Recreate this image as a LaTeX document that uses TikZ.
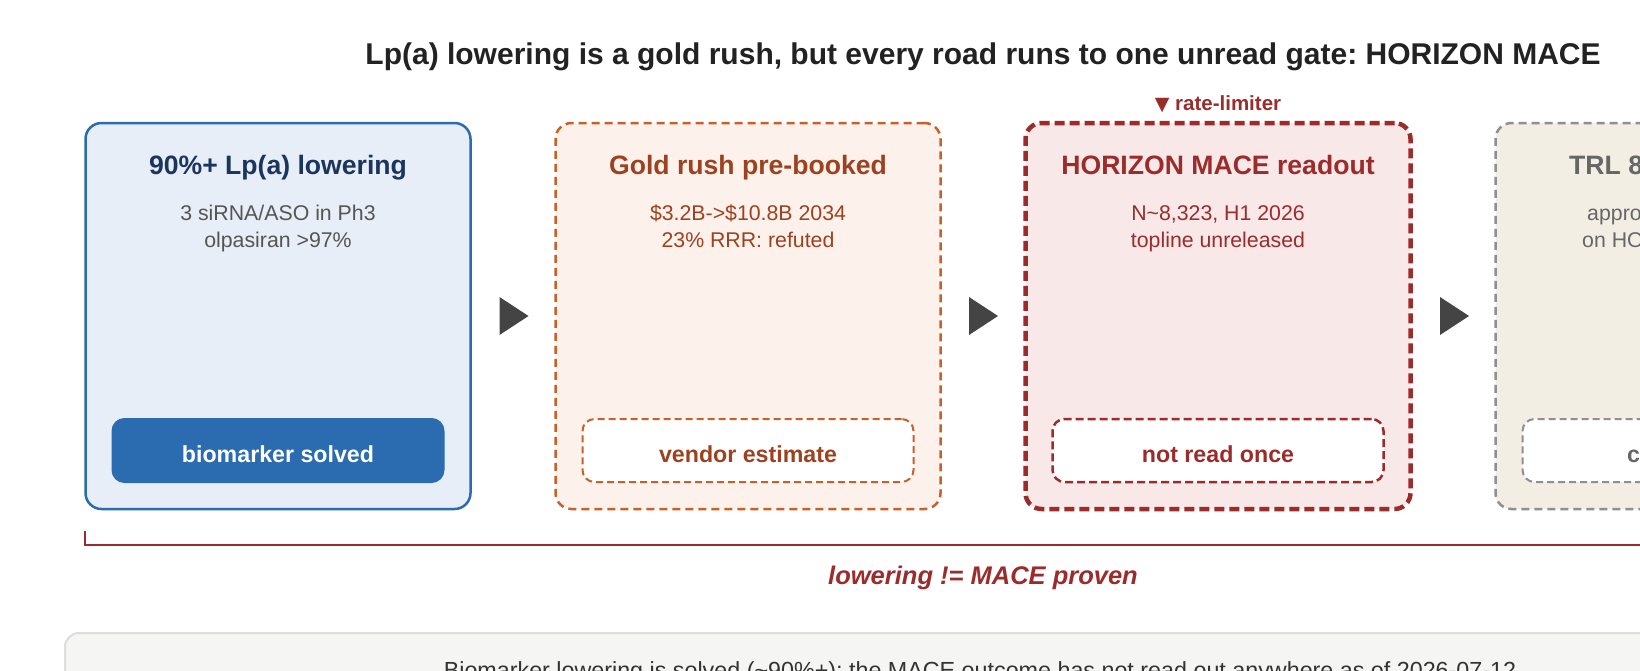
\documentclass[tikz,border=0pt]{standalone}
\usepackage{fontspec}
\setmainfont{Liberation Sans}
\newfontfamily\dejavu{DejaVu Sans}
\usetikzlibrary{calc}
\frenchspacing
\definecolor{titlec}{HTML}{222222}
\definecolor{blueedge}{HTML}{2B6CB0}
\definecolor{bluefill}{HTML}{E7EEF7}
\definecolor{bluetitle}{HTML}{1B355C}
\definecolor{bodygray}{HTML}{555555}
\definecolor{orangeedge}{HTML}{C8602A}
\definecolor{orangefill}{HTML}{FCF1EB}
\definecolor{orangetext}{HTML}{9C4221}
\definecolor{rededge}{HTML}{9B2C2C}
\definecolor{redfill}{HTML}{F8E8E8}
\definecolor{grayedge}{HTML}{8F8F8F}
\definecolor{grayfill}{HTML}{F2EEE4}
\definecolor{graytext}{HTML}{666666}
\definecolor{arrowc}{HTML}{444444}
\definecolor{panelfill}{HTML}{F5F5F3}
\definecolor{paneledge}{HTML}{DDDDDD}
\definecolor{paneltext}{HTML}{333333}
\begin{document}
\begin{tikzpicture}[x=1pt,y=-1pt,
  cardbox/.style={rectangle, rounded corners=16pt, minimum width=385pt, minimum height=386pt, inner sep=0pt, line width=2.5pt},
  dashedge/.style={dash pattern=on 8pt off 5pt},
  pillbox/.style={rectangle, rounded corners=12pt, minimum width=331pt, minimum height=63pt, inner sep=0pt, line width=2pt},
  pilldash/.style={dash pattern=on 7pt off 4pt},
  cardtitle/.style={anchor=base, inner sep=0pt, font=\fontsize{26.6}{32}\selectfont\bfseries},
  cardbody/.style={anchor=base, inner sep=0pt, font=\fontsize{21.3}{25}\selectfont},
  pilltext/.style={anchor=base, inner sep=0pt, font=\fontsize{23.2}{28}\selectfont\bfseries},
  tri/.style={fill=arrowc},
  bracketline/.style={draw=rededge, line width=2.5pt}
]
\useasboundingbox (0,0) rectangle (1640,670);
\clip (0,0) rectangle (1640,670);
\fill[white] (0,0) rectangle (1640,670);

% title
\node[anchor=base, inner sep=0pt, font=\fontsize{30}{36}\selectfont\bfseries, text=titlec] (title) at (983,64)
  {Lp(a) lowering is a gold rush, but every road runs to one unread gate: HORIZON MACE};

% cards
\node[cardbox, draw=blueedge, fill=bluefill] (b1) at (278,316) {};
\node[cardbox, dashedge, draw=orangeedge, fill=orangefill] (b2) at (748,316) {};
\node[cardbox, draw=rededge, fill=redfill, line width=4.5pt, dash pattern=on 10pt off 5pt] (b3) at (1218,316) {};
\node[cardbox, dashedge, draw=grayedge, fill=grayfill] (b4) at (1688,316) {};

% rate-limiter tag
\node[anchor=base, inner sep=0pt, font=\fontsize{20.5}{24}\selectfont\bfseries, text=rededge] (tag) at (1218,110)
  {{\dejavu\fontsize{19}{22}\selectfont\char"25BC}\ rate-limiter};

% card 1
\node[cardtitle, text=bluetitle] (t1) at (278,174) {90\%+ Lp(a) lowering};
\node[cardbody, text=bodygray] (s1a) at (278,220) {3 siRNA/ASO in Ph3};
\node[cardbody, text=bodygray] (s1b) at (278,247) {olpasiran >97\%};
\node[pillbox, fill=blueedge, draw=blueedge] (p1) at (278,450.5) {};
\node[pilltext, text=white] (p1t) at (278,462) {biomarker solved};

% card 2
\node[cardtitle, text=orangetext] (t2) at (748,174) {Gold rush pre-booked};
\node[cardbody, text=orangetext] (s2a) at (748,220) {\$3.2B->\$10.8B 2034};
\node[cardbody, text=orangetext] (s2b) at (748,247) {23\% RRR: refuted};
\node[pillbox, pilldash, fill=white, draw=orangeedge] (p2) at (748,450.5) {};
\node[pilltext, text=orangetext] (p2t) at (748,462) {vendor estimate};

% card 3
\node[cardtitle, text=rededge] (t3) at (1218,174) {HORIZON MACE readout};
\node[cardbody, text=rededge] (s3a) at (1218,220) {N\textasciitilde 8,323, H1 2026};
\node[cardbody, text=rededge] (s3b) at (1218,247) {topline unreleased};
\node[pillbox, fill=white, draw=rededge, line width=2.5pt, dash pattern=on 8pt off 4pt] (p3) at (1218,450.5) {};
\node[pilltext, text=rededge] (p3t) at (1218,462) {not read once};

% card 4 (cut by the right edge)
\node[cardtitle, anchor=base west, text=graytext] (t4) at (1569,174) {TRL 8};
\node[cardbody, anchor=base west, text=graytext] (s4a) at (1587,220) {appro};
\node[cardbody, anchor=base west, text=graytext] (s4b) at (1582,247) {on HO};
\node[pillbox, pilldash, fill=white, draw=grayedge] (p4) at (1688,450.5) {};
\node[pilltext, anchor=base west, text=graytext] (p4t) at (1627,462) {c};

% arrows between cards
\coordinate (m1) at ($(b1.east)!0.5!(b2.west)$);
\coordinate (m2) at ($(b2.east)!0.5!(b3.west)$);
\coordinate (m3) at ($(b3.east)!0.5!(b4.west)$);
\foreach \m in {m1,m2,m3}{
  \fill[tri] ($(\m)+(-13.5,-19)$) -- ($(\m)+(15.5,0)$) -- ($(\m)+(-13.5,19)$) -- cycle;
}

% bracket
\coordinate (brl) at (85,531);
\coordinate (brr) at (1881,531);
\draw[bracketline] (brl) -- ($(brl)+(0,14)$) -- ($(brr)+(0,14)$) -- (brr);
\node[anchor=base, inner sep=0pt, font=\fontsize{25.5}{30}\selectfont\bfseries\itshape, text=rededge] (brlabel) at (983,584)
  {lowering != MACE proven};

% bottom panel
\node[rectangle, rounded corners=14pt, anchor=north west, minimum width=1838pt, minimum height=140pt,
  fill=panelfill, draw=paneledge, line width=2pt, inner sep=0pt] (panel) at (64,632) {};
\node[anchor=base, inner sep=0pt, font=\fontsize{23.3}{28}\selectfont, text=paneltext] (note) at (980,678.5)
  {Biomarker lowering is solved (\textasciitilde 90\%+); the MACE outcome has not read out anywhere as of 2026-07-12};
\end{tikzpicture}
\end{document}
